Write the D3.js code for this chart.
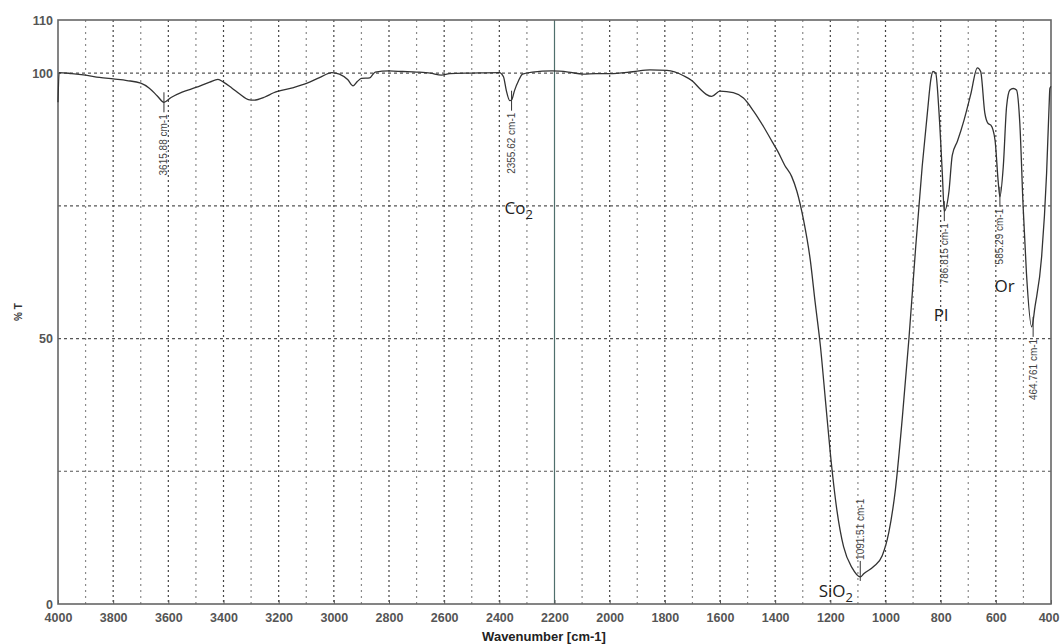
<!DOCTYPE html>
<html>
<head>
<meta charset="utf-8">
<script src="https://cdn.jsdelivr.net/npm/d3@7"></script>
<style>
  body { margin: 0; background: #fff; }
  svg { display: block; font-family: Arial, "Liberation Sans", sans-serif; }
  .tick text { font-size: 12.5px; font-weight: bold; fill: #555; }
  .tick line { stroke: #555; }
  .domain { display: none; }
</style>
</head>
<body>
<svg id="chart" width="1060" height="644"></svg>
<script>
// Spectrum: wavenumber (cm-1) and % transmittance
const wavenumbers = [
  4000, 3996, 3950, 3900, 3850, 3800, 3750, 3700, 3670, 3640, 3616, 3590, 3550, 3500,
  3450, 3420, 3400, 3370, 3340, 3310, 3290, 3250, 3218, 3150, 3097, 3050, 3007, 2980,
  2950, 2930, 2915, 2900, 2870, 2850, 2800, 2750, 2700, 2650, 2610, 2580, 2500, 2400,
  2385, 2375, 2362, 2355, 2345, 2330, 2316, 2280, 2209, 2150, 2097, 2050, 2000, 1916,
  1854, 1792, 1732, 1700, 1672, 1650, 1630, 1600, 1552, 1515, 1479, 1442, 1410, 1390,
  1365, 1340, 1321, 1297, 1273, 1255, 1236, 1218, 1200, 1176, 1152, 1121, 1091, 1079,
  1042, 1012, 988, 964, 939, 915, 891, 867, 848, 835, 828, 818, 806, 794, 786.8, 770,
  758, 739, 715, 691, 667, 655, 640, 628, 618, 603, 591, 585.3, 573, 561, 549, 537,
  525, 513, 501, 489, 470, 458, 434, 416, 407, 404, 400
];
const transmittance = [
  94.5, 100.1, 99.9, 99.6, 99.2, 98.9, 98.6, 98.1, 97.2, 95.7, 94.5, 95.4, 96.4, 97.3,
  98.3, 98.8, 98.3, 97.2, 96.0, 95.0, 94.9, 95.5, 96.3, 97.2, 98.1, 99.2, 100.1, 99.8,
  98.8, 97.6, 98.4, 99.0, 99.1, 100.2, 100.4, 100.3, 100.2, 100.0, 99.6, 99.9, 100.0, 100.1,
  99.3, 96.8, 94.8, 95.0, 96.7, 98.6, 99.8, 100.2, 100.4, 100.2, 99.8, 99.9, 99.9, 100.25,
  100.6, 100.5, 99.5, 98.5, 97.0, 96.0, 95.6, 96.6, 96.3, 95.3, 92.9, 89.9, 87.0, 85.2,
  82.6, 80.5, 77.7, 72.3, 64.9, 56.8, 48.6, 38.5, 28.4, 17.6, 10.8, 6.8, 5.1, 5.7,
  7.1, 9.1, 13.5, 21.6, 35.1, 50.0, 66.9, 82.4, 92.6, 99.0, 100.3, 100.0, 92.6, 81.1, 74.0, 77.7,
  84.5, 87.2, 91.2, 96.0, 101.0, 100.3, 92.5, 90.5, 90.2, 87.4, 79.3, 76.7, 82.4, 93.7, 96.8, 97.1,
  96.8, 90.5, 74.8, 62.3, 52.2, 56.0, 65.4, 81.1, 93.7, 97.1, 97.5
];

// Marked peaks
const peakWavenumbers = [3615.88, 2355.62, 1091.51, 786.815, 585.29, 464.761];
const peakValues = [94.5, 94.8, 5.1, 74.0, 76.7, 52.2];
const peakLabelAbove = [false, false, true, false, false, false];

// Band assignments written on the chart
const bandNames = ["Co", "SiO", "Pl", "Or"];
const bandSubscripts = ["2", "2", "", ""];
const bandWavenumbers = [2330, 1180, 799, 568];
const bandValues = [73.5, 1.3, 53.3, 58.8];

const xTicks = d3.range(4000, 399, -200);
const yTicks = [0, 50, 100, 110];
const yGrid = [25, 50, 75, 100];
const xGrid = d3.range(3900, 400, -100);

const svg = d3.select("#chart");
const margin = { top: 20, right: 9, bottom: 40, left: 58 };
const width = +svg.attr("width") - margin.left - margin.right;
const height = +svg.attr("height") - margin.top - margin.bottom;

const x = d3.scaleLinear().domain([4000, 400]).range([0, width]);
const y = d3.scaleLinear().domain([0, 110]).range([height, 0]);

const g = svg.append("g").attr("transform", `translate(${margin.left},${margin.top})`);

// Vertical grid, heavier on the labelled hundreds
g.append("g")
  .selectAll("line")
  .data(xGrid)
  .join("line")
  .attr("x1", d => x(d))
  .attr("x2", d => x(d))
  .attr("y1", 0)
  .attr("y2", height)
  .attr("stroke", d => (d === 2200 ? "#4f6f6c" : d % 200 === 0 ? "#444" : "#8a8a8a"))
  .attr("stroke-width", 1.2)
  .attr("stroke-dasharray", d => (d === 2200 ? null : d % 200 === 0 ? "2,3" : "2,4"));

// Horizontal grid
g.append("g")
  .selectAll("line")
  .data(yGrid)
  .join("line")
  .attr("x1", 0)
  .attr("x2", width)
  .attr("y1", d => y(d))
  .attr("y2", d => y(d))
  .attr("stroke", "#555")
  .attr("stroke-width", 1.2)
  .attr("stroke-dasharray", "3,3");

// Axes
const xAxis = g.append("g")
  .attr("transform", `translate(0,${height})`)
  .call(d3.axisBottom(x).tickValues(xTicks).tickSize(-4).tickPadding(9).tickFormat(d3.format("d")));

// last label sits against the right edge of the image
xAxis.selectAll(".tick text")
  .filter(d => d === 400)
  .attr("text-anchor", "end")
  .attr("x", 8);

g.append("g")
  .call(d3.axisLeft(y).tickValues(yTicks).tickSize(0).tickPadding(5));

// Frame
g.append("rect")
  .attr("width", width)
  .attr("height", height)
  .attr("fill", "none")
  .attr("stroke", "#666")
  .attr("stroke-width", 1.6);

// Spectrum
const points = wavenumbers.map((w, i) => [w, transmittance[i]]);
const line = d3.line()
  .x(d => x(d[0]))
  .y(d => y(d[1]))
  .curve(d3.curveMonotoneX);

g.append("path")
  .datum(points)
  .attr("fill", "none")
  .attr("stroke", "#333")
  .attr("stroke-width", 1.3)
  .attr("stroke-linejoin", "round")
  .attr("d", line);

// Peak markers and labels
const peaks = g.append("g")
  .selectAll("g")
  .data(peakWavenumbers)
  .join("g")
  .attr("transform", (d, i) => `translate(${x(d)},${y(peakValues[i])})`);

peaks.append("line")
  .attr("y1", (d, i) => (peakLabelAbove[i] ? -16 : -10))
  .attr("y2", (d, i) => (peakLabelAbove[i] ? 4 : 10))
  .attr("stroke", "#333")
  .attr("stroke-width", 1);

peaks.append("text")
  .attr("transform", (d, i) => (peakLabelAbove[i] ? "translate(3.5,-17) rotate(-90)" : "translate(3.5,12) rotate(-90)"))
  .attr("text-anchor", (d, i) => (peakLabelAbove[i] ? "start" : "end"))
  .attr("font-size", 10)
  .attr("fill", "#444")
  .text(d => `${d} cm-1`);

// Band names
const bands = g.append("g")
  .selectAll("text")
  .data(bandNames)
  .join("text")
  .attr("x", (d, i) => x(bandWavenumbers[i]))
  .attr("y", (d, i) => y(bandValues[i]))
  .attr("text-anchor", "middle")
  .attr("font-family", "'Open Sans', sans-serif")
  .attr("font-size", 17)
  .attr("fill", "#222");

bands.append("tspan").text(d => d);
bands.append("tspan")
  .attr("dy", 5)
  .attr("font-size", 13)
  .text((d, i) => bandSubscripts[i]);

// Axis titles
svg.append("text")
  .attr("transform", `translate(22,${margin.top + height / 2}) rotate(-90)`)
  .attr("text-anchor", "middle")
  .attr("font-size", 10)
  .attr("font-weight", "bold")
  .attr("fill", "#333")
  .text("% T");

svg.append("text")
  .attr("x", 544)
  .attr("y", 641)
  .attr("text-anchor", "middle")
  .attr("font-size", 13)
  .attr("font-weight", "bold")
  .attr("fill", "#222")
  .text("Wavenumber [cm-1]");
</script>
</body>
</html>
